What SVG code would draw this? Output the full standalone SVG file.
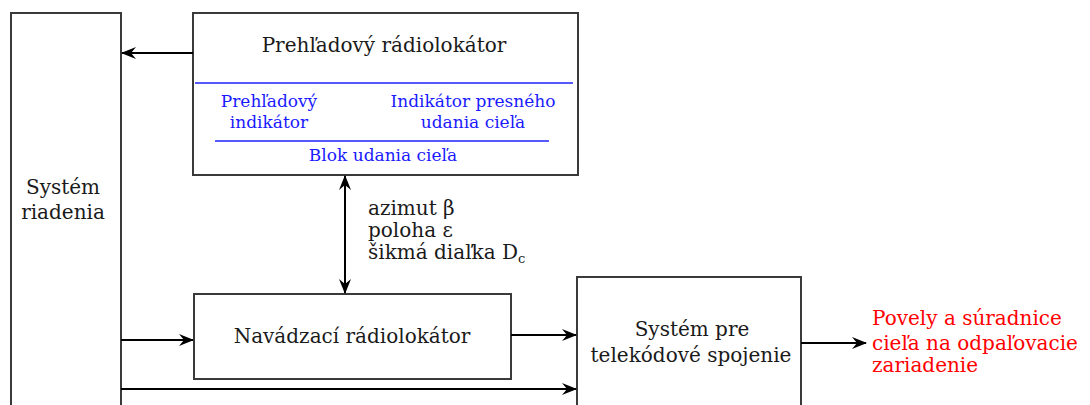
<svg xmlns="http://www.w3.org/2000/svg" width="1090" height="405" viewBox="0 0 1090 405">
  <defs>
    <marker id="arr" markerWidth="15" markerHeight="12" refX="14" refY="6" orient="auto" markerUnits="userSpaceOnUse">
      <path d="M0,0 L15,6 L0,12 L5,6 z" fill="#000"/>
    </marker>
    <marker id="arrStart" markerWidth="15" markerHeight="12" refX="1" refY="6" orient="auto" markerUnits="userSpaceOnUse">
      <path d="M15,0 L0,6 L15,12 L10,6 z" fill="#000"/>
    </marker>
  </defs>
  <style>
    .box { fill: #fff; stroke: #3a3a3a; stroke-width: 2; }
    .lbl { font-family: "DejaVu Serif", "Liberation Serif", serif; font-size: 20px; fill: #1a1a1a; }
    .sub { font-family: "DejaVu Serif", "Liberation Serif", serif; font-size: 17px; fill: #1a1aff; }
    .out { font-family: "DejaVu Serif", "Liberation Serif", serif; font-size: 20px; fill: #ff0000; }
    .sep { stroke: #2020ff; stroke-width: 1.5; }
    .wire { fill: none; stroke: #000; stroke-width: 2; }
  </style>
  <rect width="1090" height="405" fill="#fff"/>

  <g id="system-riadenia">
    <rect class="box" x="11" y="13" width="110" height="400"/>
    <text class="lbl" x="63" y="194" text-anchor="middle" font-size="18.5">Systém</text>
    <text class="lbl" x="63" y="219" text-anchor="middle" font-size="18.5">riadenia</text>
  </g>

  <g id="prehladovy-radiolokator">
    <rect class="box" x="193" y="13" width="385" height="162"/>
    <text class="lbl" x="384" y="52" text-anchor="middle">Prehľadový rádiolokátor</text>
    <line class="sep" x1="195" y1="83" x2="573" y2="83"/>
    <text class="sub" x="269" y="107" text-anchor="middle">Prehľadový</text>
    <text class="sub" x="269" y="128" text-anchor="middle">indikátor</text>
    <text class="sub" x="473" y="107" text-anchor="middle">Indikátor presného</text>
    <text class="sub" x="473" y="128" text-anchor="middle">udania cieľa</text>
    <line class="sep" x1="215" y1="141" x2="549" y2="141"/>
    <text class="sub" x="383" y="161" text-anchor="middle">Blok udania cieľa</text>
  </g>

  <g id="navadzaci-radiolokator">
    <rect class="box" x="194" y="294" width="317" height="85"/>
    <text class="lbl" x="352" y="343" text-anchor="middle">Navádzací rádiolokátor</text>
  </g>

  <g id="telekodove-spojenie">
    <rect class="box" x="577" y="277" width="224" height="140"/>
    <text class="lbl" x="692" y="336" text-anchor="middle">Systém pre</text>
    <text class="lbl" x="691" y="362" text-anchor="middle">telekódové spojenie</text>
  </g>

  <g id="vystup">
    <text class="out" x="872" y="325">Povely a súradnice</text>
    <text class="out" x="872" y="350">cieľa na odpaľovacie</text>
    <text class="out" x="872" y="372">zariadenie</text>
  </g>

  <g id="parametre">
    <text class="lbl" x="368" y="215">azimut β</text>
    <text class="lbl" x="368" y="237">poloha ε</text>
    <text class="lbl" x="368" y="259">šikmá diaľka D<tspan font-size="13" dy="4">c</tspan></text>
  </g>

  <g id="connectors">
    <line class="wire" x1="193" y1="53" x2="122" y2="53" marker-end="url(#arr)"/>
    <line class="wire" x1="345" y1="176" x2="345" y2="293" marker-start="url(#arrStart)" marker-end="url(#arr)"/>
    <line class="wire" x1="121" y1="340" x2="193" y2="340" marker-end="url(#arr)"/>
    <line class="wire" x1="511" y1="335" x2="576" y2="335" marker-end="url(#arr)"/>
    <line class="wire" x1="121" y1="389" x2="576" y2="389" marker-end="url(#arr)"/>
    <line class="wire" x1="801" y1="343" x2="866" y2="343" marker-end="url(#arr)"/>
  </g>
</svg>
